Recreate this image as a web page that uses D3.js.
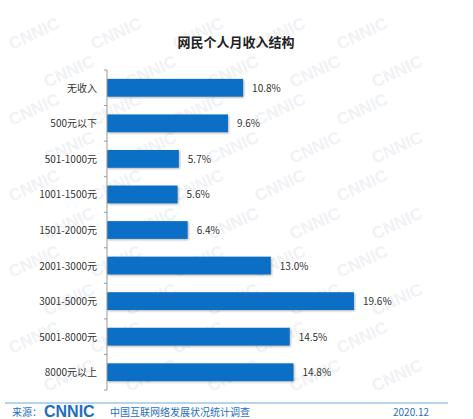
<!DOCTYPE html>
<html><head><meta charset="utf-8">
<script src="https://cdn.jsdelivr.net/npm/d3@7"></script>
<style>body{margin:0;background:#fff;font-family:"Noto Sans CJK SC",sans-serif;}</style>
</head><body><div id="chart"></div>
<script>
// income brackets and share of netizens (%)
var categories = ["无收入","500元以下","501-1000元","1001-1500元","1501-2000元","2001-3000元","3001-5000元","5001-8000元","8000元以上"];
var values = [10.8, 9.6, 5.7, 5.6, 6.4, 13.0, 19.6, 14.5, 14.8];

var W = 473, H = 419;
var margin = {top: 70, left: 107};
var svg = d3.select("#chart").append("svg").attr("width", W).attr("height", H);

// faint watermark, kept inside the picture
var wm = svg.append("g");
for (var r = 0; r < 10; r++) {
    for (var c = 0; c < 5; c++) {
        wm.append("text")
            .attr("transform", "translate(" + (c * 82 + (r % 2) * 35 + 12) + "," + (r * 38 + 50) + ") rotate(-25)")
            .text("CNNIC")
            .style("font-family", "Arial, sans-serif").style("font-weight", "bold")
            .style("font-size", "17px").style("fill", "#f0f2f5");
    }
}

svg.append("text").attr("x", 236).attr("y", 47).attr("text-anchor", "middle")
    .text("网民个人月收入结构")
    .style("font-size", "13px").style("font-weight", "bold").style("fill", "#222");

var x = d3.scaleLinear().domain([0, 1]).range([0, 12.6]);
var y = d3.scaleBand().domain(categories).range([margin.top, 390]).paddingInner(0.5).paddingOuter(0.25);

var g = svg.append("g");
g.selectAll("rect").data(values).enter().append("rect")
    .attr("x", margin.left)
    .attr("y", function(d, i) { return y(categories[i]); })
    .attr("width", function(d) { return x(d); })
    .attr("height", y.bandwidth())
    .style("fill", "#0b6fc6")
    .style("filter", "drop-shadow(1px 1px 1px rgba(0,0,0,0.3))");

g.selectAll(".val").data(values).enter().append("text")
    .attr("x", function(d) { return margin.left + x(d) + 9; })
    .attr("y", function(d, i) { return y(categories[i]) + y.bandwidth() / 2 + 4; })
    .text(function(d) { return d.toFixed(1) + "%"; })
    .style("font-size", "10px").style("fill", "#333");

// category axis with tick marks between bands
var step = y.step();
var axis = svg.append("g").attr("transform", "translate(" + margin.left + ",0)");
axis.append("line").attr("y1", margin.top).attr("y2", 390).style("stroke", "#999");
d3.range(categories.length + 1).forEach(function(i) {
    var ty = margin.top + i * step;
    axis.append("line").attr("x1", -3).attr("x2", 0).attr("y1", ty).attr("y2", ty).style("stroke", "#999");
});
axis.selectAll(".lab").data(categories).enter().append("text")
    .attr("x", -10).attr("text-anchor", "end")
    .attr("y", function(d) { return y(d) + y.bandwidth() / 2 + 4; })
    .text(function(d) { return d; })
    .style("font-size", "10px").style("fill", "#333");

// footer
svg.append("line").attr("x1", 5).attr("x2", 448).attr("y1", 403).attr("y2", 403)
    .style("stroke", "#6fa8dc").style("stroke-width", 1);
svg.append("text").attr("x", 12).attr("y", 416).text("来源：")
    .style("font-size", "10px").style("fill", "#1f6fc0");
svg.append("text").attr("x", 44).attr("y", 417).text("CNNIC")
    .style("font-family", "Arial, sans-serif").style("font-weight", "bold")
    .style("font-size", "16px").style("fill", "#1f6fc0");
svg.append("text").attr("x", 110).attr("y", 416).text("中国互联网络发展状况统计调查")
    .style("font-size", "10px").style("fill", "#1f6fc0");
svg.append("text").attr("x", 393).attr("y", 416).text("2020.12")
    .style("font-size", "10px").style("fill", "#1f6fc0");
</script></body></html>
